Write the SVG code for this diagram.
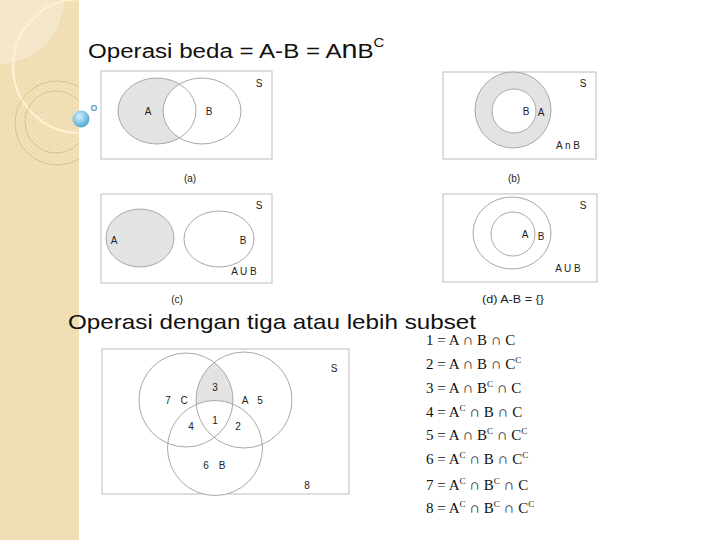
<svg xmlns="http://www.w3.org/2000/svg" width="720" height="540" viewBox="0 0 720 540">
<defs>
<pattern id="tex" width="4" height="4" patternUnits="userSpaceOnUse">
<rect width="4" height="4" fill="#f1e0b8"/>
<rect x="0" y="0" width="1" height="1" fill="#e4cf9f"/>
<rect x="2" y="2" width="1" height="1" fill="#e6d2a4"/>
</pattern>
<clipPath id="clipC"><circle cx="186" cy="400" r="47"/></clipPath>
<clipPath id="strip"><rect x="0" y="0" width="79" height="540"/></clipPath>
<radialGradient id="ball" cx="0.4" cy="0.35" r="0.7">
<stop offset="0" stop-color="#d8f0fb"/>
<stop offset="0.6" stop-color="#7cc3e4"/>
<stop offset="1" stop-color="#4a9ec8"/>
</radialGradient>
</defs>
<style>
.lbl{font-family:"Liberation Sans",Arial,sans-serif;font-size:10px;fill:#222;text-anchor:middle}
.title{font-family:"Liberation Sans",Arial,sans-serif;font-size:21px;fill:#111}
.frm{font-family:"Liberation Serif","Times New Roman",serif;font-size:15px;fill:#111}
.sup{font-size:9px}
.box{fill:#fff;stroke:#bdbdbd;stroke-width:1}
.ln{fill:none;stroke:#a8a8a8;stroke-width:1}
.sh{fill:#e3e3e3}
.wh{fill:#fff}
</style>
<rect width="720" height="540" fill="#fff"/>
<g id="background">
<rect x="0" y="0" width="79" height="540" fill="url(#tex)"/>
<g clip-path="url(#strip)">
<circle cx="-2" cy="-2" r="66" fill="#fff" opacity="0.3"/>
<circle cx="80" cy="66" r="67" fill="none" stroke="#fbf1d2" stroke-width="2.5"/>
<circle cx="57" cy="123" r="42" fill="none" stroke="#d6c29a" stroke-width="1"/>
<circle cx="56" cy="122" r="31" fill="none" stroke="#d6c29a" stroke-width="1"/>
</g>
<circle cx="81" cy="119" r="8.5" fill="url(#ball)"/>
<circle cx="94" cy="108" r="2.5" fill="#fff" stroke="#6fb0cc" stroke-width="1.5"/>
</g>
<g id="title1">
<text class="title" transform="translate(88,58) scale(1.15,1)">Operasi beda = A-B = A<tspan font-size="25">n</tspan>B<tspan font-size="13" dy="-11">C</tspan></text>
</g>
<g id="panel-a">
<rect class="box" x="101" y="71" width="171" height="88"/>
<ellipse class="sh" cx="157" cy="111" rx="39" ry="33"/>
<ellipse class="wh" cx="202" cy="111" rx="39" ry="33"/>
<ellipse class="ln" cx="157" cy="111" rx="39" ry="33"/>
<ellipse class="ln" cx="202" cy="111" rx="39" ry="33"/>
<text class="lbl" x="148" y="115">A</text>
<text class="lbl" x="209" y="115">B</text>
<text class="lbl" x="259" y="87">S</text>
<text class="lbl" x="190" y="182">(a)</text>
</g>
<g id="panel-b">
<rect class="box" x="443" y="72" width="153" height="87"/>
<circle class="sh" cx="513" cy="110" r="38"/>
<circle class="ln" cx="513" cy="110" r="38"/>
<circle class="wh" cx="514" cy="111" r="22"/>
<circle class="ln" cx="514" cy="111" r="22"/>
<text class="lbl" x="526" y="115">B</text>
<text class="lbl" x="541" y="116">A</text>
<text class="lbl" x="583" y="87">S</text>
<text class="lbl" x="568" y="149">A n B</text>
<text class="lbl" x="514" y="182">(b)</text>
</g>
<g id="panel-c">
<rect class="box" x="101" y="194" width="171" height="89"/>
<ellipse class="sh" cx="140" cy="238" rx="34" ry="29"/>
<ellipse class="ln" cx="140" cy="238" rx="34" ry="29"/>
<ellipse class="ln" cx="219" cy="239" rx="35" ry="28"/>
<text class="lbl" x="114" y="244">A</text>
<text class="lbl" x="243" y="244">B</text>
<text class="lbl" x="259" y="209">S</text>
<text class="lbl" x="244" y="275">A U B</text>
<text class="lbl" x="177" y="303">(c)</text>
</g>
<g id="panel-d">
<rect class="box" x="443" y="194" width="154" height="88"/>
<ellipse class="ln" cx="512" cy="233" rx="39" ry="36"/>
<circle class="ln" cx="513" cy="234" r="22"/>
<text class="lbl" x="525" y="238">A</text>
<text class="lbl" x="541" y="240">B</text>
<text class="lbl" x="583" y="209">S</text>
<text class="lbl" x="568" y="272">A U B</text>
<text class="lbl" x="513" y="303" textLength="62" lengthAdjust="spacingAndGlyphs">(d) A-B = {}</text>
</g>
<g id="title2">
<text class="title" x="68" y="329" textLength="408" lengthAdjust="spacingAndGlyphs">Operasi dengan tiga atau lebih subset</text>
</g>
<g id="panel-abc">
<rect class="box" x="102" y="349" width="247" height="145"/>
<circle class="sh" cx="244" cy="400" r="48" clip-path="url(#clipC)"/>
<circle class="wh" cx="215" cy="448" r="47.5"/>
<circle class="ln" cx="186" cy="400" r="47"/>
<circle class="ln" cx="244" cy="400" r="48"/>
<circle class="ln" cx="215" cy="448" r="47.5"/>
<text class="lbl" x="215" y="391">3</text>
<text class="lbl" x="168" y="404">7</text>
<text class="lbl" x="184" y="404">C</text>
<text class="lbl" x="245" y="404">A</text>
<text class="lbl" x="260" y="404">5</text>
<text class="lbl" x="191" y="430">4</text>
<text class="lbl" x="215" y="424">1</text>
<text class="lbl" x="238" y="430">2</text>
<text class="lbl" x="206" y="469">6</text>
<text class="lbl" x="222" y="469">B</text>
<text class="lbl" x="334" y="372">S</text>
<text class="lbl" x="307" y="489">8</text>
</g>
<g id="formulas">
<text class="frm" x="426" y="345">1 = A ∩ B ∩ C</text>
<text class="frm" x="426" y="369">2 = A ∩ B ∩ C<tspan class="sup" dy="-6">C</tspan></text>
<text class="frm" x="426" y="393">3 = A ∩ B<tspan class="sup" dy="-6">C</tspan><tspan dy="6"> ∩ C</tspan></text>
<text class="frm" x="426" y="417">4 = A<tspan class="sup" dy="-6">C</tspan><tspan dy="6"> ∩ B ∩ C</tspan></text>
<text class="frm" x="426" y="440">5 = A ∩ B<tspan class="sup" dy="-6">C</tspan><tspan dy="6"> ∩ C</tspan><tspan class="sup" dy="-6">C</tspan></text>
<text class="frm" x="426" y="464">6 = A<tspan class="sup" dy="-6">C</tspan><tspan dy="6"> ∩ B ∩ C</tspan><tspan class="sup" dy="-6">C</tspan></text>
<text class="frm" x="426" y="490">7 = A<tspan class="sup" dy="-6">C</tspan><tspan dy="6"> ∩ B</tspan><tspan class="sup" dy="-6">C</tspan><tspan dy="6"> ∩ C</tspan></text>
<text class="frm" x="426" y="513">8 = A<tspan class="sup" dy="-6">C</tspan><tspan dy="6"> ∩ B</tspan><tspan class="sup" dy="-6">C</tspan><tspan dy="6"> ∩ C</tspan><tspan class="sup" dy="-6">C</tspan></text>
</g>
</svg>
